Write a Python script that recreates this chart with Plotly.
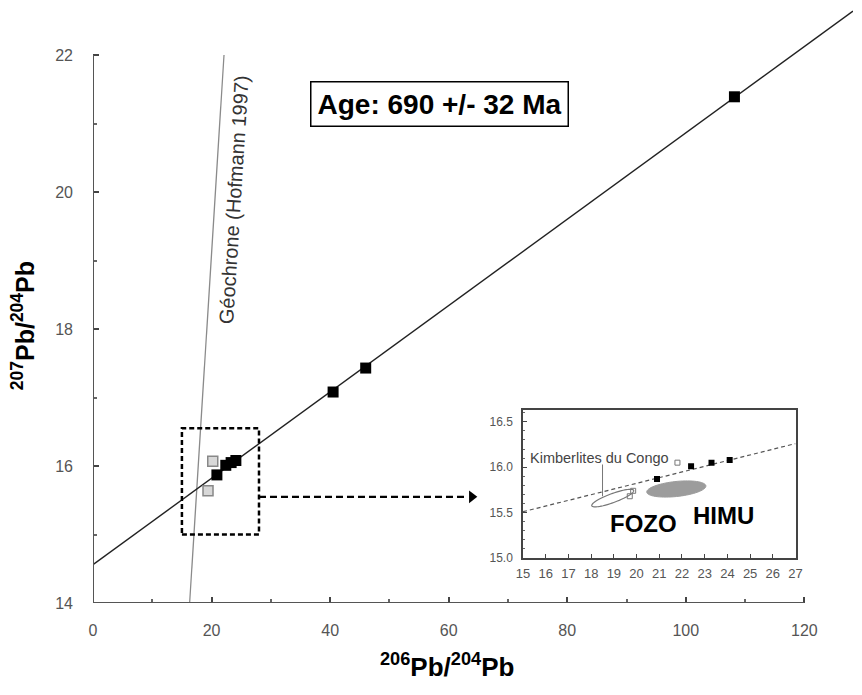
import numpy as np
import plotly.graph_objects as go

# ---------------- data ----------------
x_ticks = [0, 20, 40, 60, 80, 100, 120]
x_minor = [10, 30, 50, 70, 90, 110]
y_ticks = [14, 16, 18, 20, 22]
y_minor = [15, 17, 19, 21]

congo_x = [20.9, 22.4, 23.3, 24.1, 40.5, 46.0, 108.2]
congo_y = [15.87, 16.01, 16.05, 16.08, 17.08, 17.43, 21.39]

grey_main_x = [20.2, 19.4]
grey_main_y = [16.07, 15.64]

isochron_x = [0, 128.2]
isochron_y = [14.56, 22.64]

geochrone_x = [16.3, 22.1]
geochrone_y = [14.0, 22.0]

zoom_box_x = [15, 28]
zoom_box_y = [15.0, 16.55]
arrow_x = [28, 63.0]
arrow_y = [15.55, 15.55]

# inset
inset_black_x = [20.9, 22.4, 23.3, 24.1]
inset_black_y = [15.87, 16.01, 16.05, 16.08]
inset_open_x = [21.8]
inset_open_y = [16.05]
inset_grey_x = [19.85, 19.7]
inset_grey_y = [15.74, 15.68]
inset_iso_x = [15, 27]
inset_iso_y = [15.51, 16.26]
inset_x_ticks = list(range(15, 28))
inset_y_ticks = [15.0, 15.5, 16.0, 16.5]
inset_y_minor = [15.1, 15.2, 15.3, 15.4, 15.6, 15.7, 15.8, 15.9, 16.1, 16.2, 16.3, 16.4, 16.6]
leader_x = [18.5, 18.5]
leader_y = [16.03, 15.68]

# field ellipses: centre x, centre y, semi-axes (px), tilt (deg)
fozo_field = (18.95, 15.66, 22.5, 4.5, 20)
himu_field = (21.75, 15.76, 30, 7.5, 6)

# ---------------- layout geometry ----------------
W, H = 862, 695
ML, MR, MT, MB = 93, 2, 5, 92
PW, PH = W - ML - MR, H - MT - MB
ins_px = (527, 802, 410, 558)  # left, right, top, bottom in pixels
ins_dom_x = [(ins_px[0] - ML) / PW, (ins_px[1] - ML) / PW]
ins_dom_y = [(H - MB - ins_px[3]) / PH, (H - MB - ins_px[2]) / PH]
ins_xr = [15, 27]
ins_yr = [15.0, 16.63]
sx = (ins_px[1] - ins_px[0]) / (ins_xr[1] - ins_xr[0])
sy = (ins_px[3] - ins_px[2]) / (ins_yr[1] - ins_yr[0])


def ellipse_path(cx, cy, a, b, ang):
    t = np.linspace(0, 2 * np.pi, 72)
    th = np.radians(ang)
    dx = a * np.cos(t) * np.cos(th) - b * np.sin(t) * np.sin(th)
    dy = a * np.cos(t) * np.sin(th) + b * np.sin(t) * np.cos(th)
    xs = cx + dx / sx
    ys = cy + dy / sy
    return "M " + " L ".join(f"{x:.4f},{y:.4f}" for x, y in zip(xs, ys)) + " Z"


FONT = "Liberation Sans, Arial, sans-serif"
fig = go.Figure()

# main panel
fig.add_trace(go.Scatter(x=geochrone_x, y=geochrone_y, mode="lines",
                         line=dict(color="#8a8a8a", width=1.3), hoverinfo="skip"))
fig.add_trace(go.Scatter(x=isochron_x, y=isochron_y, mode="lines",
                         line=dict(color="#222", width=1.4), hoverinfo="skip"))
fig.add_trace(go.Scatter(x=grey_main_x, y=grey_main_y, mode="markers",
                         marker=dict(symbol="square", size=10, color="#d8d8d8",
                                     line=dict(color="#888", width=1.5))))
fig.add_trace(go.Scatter(x=congo_x, y=congo_y, mode="markers",
                         marker=dict(symbol="square", size=11, color="#000")))
fig.add_trace(go.Scatter(x=[arrow_x[1] + 0.9], y=[arrow_y[1]], mode="markers",
                         marker=dict(symbol="triangle-right", size=11, color="#000")))

# inset panel
fig.add_trace(go.Scatter(x=inset_iso_x, y=inset_iso_y, mode="lines", xaxis="x2", yaxis="y2",
                         line=dict(color="#555", width=1.2, dash="4px,3px")))
fig.add_trace(go.Scatter(x=inset_grey_x, y=inset_grey_y, mode="markers", xaxis="x2", yaxis="y2",
                         marker=dict(symbol="square-open", size=5, color="#777",
                                     line=dict(width=1))))
fig.add_trace(go.Scatter(x=inset_open_x, y=inset_open_y, mode="markers", xaxis="x2", yaxis="y2",
                         marker=dict(symbol="square-open", size=5, color="#777",
                                     line=dict(width=1))))
fig.add_trace(go.Scatter(x=inset_black_x, y=inset_black_y, mode="markers", xaxis="x2", yaxis="y2",
                         marker=dict(symbol="square", size=6, color="#000")))

shapes = [
    dict(type="line", xref="x", yref="y", x0=0, x1=120, y0=14, y1=14,
         line=dict(color="#555", width=2), layer="above"),
    dict(type="line", xref="x", yref="y", x0=0, x1=0, y0=14, y1=22,
         line=dict(color="#555", width=2), layer="above"),
    dict(type="rect", xref="x", yref="y", x0=zoom_box_x[0], x1=zoom_box_x[1],
         y0=zoom_box_y[0], y1=zoom_box_y[1], line=dict(color="#000", width=2.5, dash="5px,3px")),
    dict(type="line", xref="x", yref="y", x0=arrow_x[0], x1=arrow_x[1], y0=arrow_y[0], y1=arrow_y[1],
         line=dict(color="#000", width=2.2, dash="7px,4px")),
    dict(type="path", xref="x2", yref="y2", path=ellipse_path(*himu_field),
         fillcolor="#9c9c9c", line=dict(color="#9c9c9c", width=1), layer="below"),
    dict(type="path", xref="x2", yref="y2", path=ellipse_path(*fozo_field),
         fillcolor="rgba(255,255,255,0)", line=dict(color="#777", width=1.2)),
    dict(type="line", xref="x2", yref="y2", x0=leader_x[0], x1=leader_x[1],
         y0=leader_y[0], y1=leader_y[1], line=dict(color="#777", width=1)),
]

annotations = [
    dict(x=58.5, y=21.28, xref="x", yref="y", text="<b>Age: 690 +/- 32 Ma</b>", showarrow=False,
         font=dict(size=28, color="#000", family=FONT), bordercolor="#000", borderwidth=1.5,
         borderpad=6, bgcolor="white"),
    dict(x=23.8, y=19.88, xref="x", yref="y", text="Géochrone (Hofmann 1997)", showarrow=False,
         textangle=-86.4, font=dict(size=20, color="#333", family=FONT)),
    dict(x=(22 - ML) / PW, y=18.05, xref="paper", yref="y", xanchor="center", yanchor="middle",
         text="<b><sup>207</sup>Pb/<sup>204</sup>Pb</b>", showarrow=False, textangle=-90,
         font=dict(size=25, color="#000", family=FONT)),
    dict(x=59.7, y=(H - MB - 665) / PH, xref="x", yref="paper", xanchor="center", yanchor="middle",
         text="<b><sup>206</sup>Pb/<sup>204</sup>Pb</b>", showarrow=False,
         font=dict(size=26, color="#000", family=FONT)),
    dict(x=15.2, y=16.1, xref="x2", yref="y2", text="Kimberlites du Congo", showarrow=False,
         xanchor="left", font=dict(size=14.5, color="#444", family=FONT)),
    dict(x=20.3, y=15.38, xref="x2", yref="y2", text="<b>FOZO</b>", showarrow=False,
         font=dict(size=24, color="#000", family=FONT)),
    dict(x=23.85, y=15.47, xref="x2", yref="y2", text="<b>HIMU</b>", showarrow=False,
         font=dict(size=24, color="#000", family=FONT)),
]

fig.update_layout(
    width=W, height=H, margin=dict(l=ML, r=MR, t=MT, b=MB),
    plot_bgcolor="white", paper_bgcolor="white", showlegend=False,
    font=dict(family=FONT, color="#555"),
    shapes=shapes, annotations=annotations,
    xaxis=dict(range=[0, 128.2], tickvals=x_ticks, ticks="inside", ticklen=6, tickwidth=1.5,
               tickcolor="#444", showline=False, showgrid=False, zeroline=False,
               tickfont=dict(size=16, color="#555"), ticklabelstandoff=16,
               minor=dict(tickvals=x_minor, ticks="inside", ticklen=4, tickcolor="#666"),
               domain=[0, 1]),
    yaxis=dict(range=[14, 22.73], tickvals=y_ticks, ticks="inside", ticklen=6, tickwidth=1.5,
               tickcolor="#444", showline=False, showgrid=False, zeroline=False,
               tickfont=dict(size=16, color="#555"), ticklabelstandoff=19,
               minor=dict(tickvals=y_minor, ticks="inside", ticklen=4, tickcolor="#666"),
               domain=[0, 1]),
    xaxis2=dict(domain=ins_dom_x, anchor="y2", range=ins_xr, tickvals=inset_x_ticks,
                ticks="inside", ticklen=4, tickcolor="#444", showline=True, mirror=True,
                linecolor="#444", linewidth=1.5, showgrid=False, zeroline=False,
                tickfont=dict(size=13, color="#555"), ticklabelstandoff=3),
    yaxis2=dict(domain=ins_dom_y, anchor="x2", range=ins_yr, tickvals=inset_y_ticks,
                tickformat=".1f", ticks="inside", ticklen=4, tickcolor="#444", showline=True,
                mirror=True, linecolor="#444", linewidth=1.5, showgrid=False, zeroline=False,
                tickfont=dict(size=12, color="#555"), ticklabelstandoff=6,
                minor=dict(tickvals=inset_y_minor, ticks="inside", ticklen=2, tickcolor="#666")),
)

fig.write_html("out.html", config={"displayModeBar": False},
               post_script="document.body.style.margin='0px';document.body.style.overflow='hidden';")
